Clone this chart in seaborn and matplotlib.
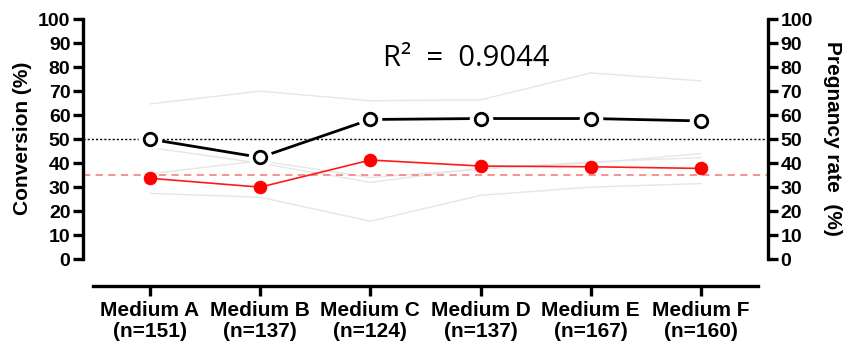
import numpy as np
import pandas as pd
import matplotlib
matplotlib.use("Agg")
import matplotlib.pyplot as plt
import seaborn as sns

categories = ["Medium A\n(n=151)", "Medium B\n(n=137)", "Medium C\n(n=124)",
              "Medium D\n(n=137)", "Medium E\n(n=167)", "Medium F\n(n=160)"]
pregnancy = [50.0, 42.4, 58.2, 58.6, 58.6, 57.6]
conversion = [33.7, 30.0, 41.3, 38.8, 38.5, 37.8]
preg_upper = [64.7, 70.0, 66.0, 66.4, 77.6, 74.3]
preg_lower = [46.5, 40.0, 32.0, 38.0, 40.0, 44.0]
conv_upper = [35.6, 41.0, 34.0, 37.5, 40.5, 42.3]
conv_lower = [27.4, 25.8, 15.8, 26.6, 30.0, 31.5]
preg_ref = 50
conv_ref = 35
r_squared = "R²  =  0.9044"

sns.set_theme(style="white")
plt.rcParams["font.family"] = ["Liberation Sans", "DejaVu Sans"]
plt.rcParams.update({"text.color": "black", "axes.labelcolor": "black",
                     "xtick.color": "black", "ytick.color": "black"})

x = np.arange(len(categories))
df = pd.DataFrame({"x": x, "preg": pregnancy, "conv": conversion,
                   "pu": preg_upper, "pl": preg_lower,
                   "cu": conv_upper, "cl": conv_lower})

fig = plt.figure(figsize=(8.45, 3.44), dpi=100)
ax = fig.add_axes([0.0982, 0.1686, 0.8107, 0.7791])
ax2 = ax.twinx()

for col in ["pu", "pl", "cu", "cl"]:
    sns.lineplot(data=df, x="x", y=col, ax=ax, color="#e6e6e6", linewidth=1.0, zorder=1)

ax.axhline(preg_ref, color="black", linestyle=(0, (1.5, 1.5)), linewidth=1.0, zorder=2)
ax.axhline(conv_ref, color="#f58a8a", linestyle=(0, (4, 3)), linewidth=1.3, zorder=2)

sns.lineplot(data=df, x="x", y="conv", ax=ax, color="#ff1a1a", linewidth=1.2,
             marker="o", markersize=9, markeredgecolor="#ff0000",
             markerfacecolor="#ff0000", zorder=3)
sns.lineplot(data=df, x="x", y="preg", ax=ax, color="black", linewidth=2.0, zorder=4)
ax.plot(x, pregnancy, linestyle="none", marker="o", markersize=16,
        markerfacecolor="white", markeredgecolor="white", zorder=5)
ax.plot(x, pregnancy, linestyle="none", marker="o", markersize=9,
        markerfacecolor="white", markeredgecolor="black", markeredgewidth=2.0, zorder=6)

ax.text(2.87, 83.5, r_squared, ha="center", va="center", fontsize=21,
        family=["Open Sans", "DejaVu Sans"], color="black")

for a in (ax, ax2):
    a.set_xlim(-0.608, 5.608)
    a.set_ylim(-11.2, 100.5)
    a.set_yticks(range(0, 101, 10))
    for s in a.spines.values():
        s.set_linewidth(2.4)
        s.set_color("black")
    a.spines["top"].set_visible(False)

ax.spines["right"].set_visible(False)
ax2.spines["left"].set_visible(False)
ax2.spines["bottom"].set_visible(False)
ax.spines["left"].set_bounds(0, 100)
ax2.spines["right"].set_bounds(0, 100)
ax.spines["bottom"].set_bounds(-0.52, 5.52)

ax.set_xticks(x)
ax.set_xticklabels(categories, fontweight="bold", fontsize=15, linespacing=1.1)
ax.tick_params(axis="x", direction="out", length=7, width=2.4, pad=4, bottom=True)
ax.tick_params(axis="y", direction="out", length=7, width=2.4, pad=2, labelsize=14, left=True)
ax2.tick_params(axis="y", direction="out", length=7, width=2.4, pad=2, labelsize=14, right=True)
for lab in ax.get_yticklabels() + ax2.get_yticklabels():
    lab.set_fontweight("bold")

ax.set_xlabel("")
ax.set_ylabel("Conversion (%)", fontweight="bold", fontsize=15)
ax2.set_ylabel("Pregnancy rate  (%)", fontweight="bold", fontsize=15, rotation=270)
ax.yaxis.set_label_coords(-0.074, 0.55)
ax2.yaxis.set_label_coords(1.108, 0.55)

fig.savefig("out.png", dpi=100)
